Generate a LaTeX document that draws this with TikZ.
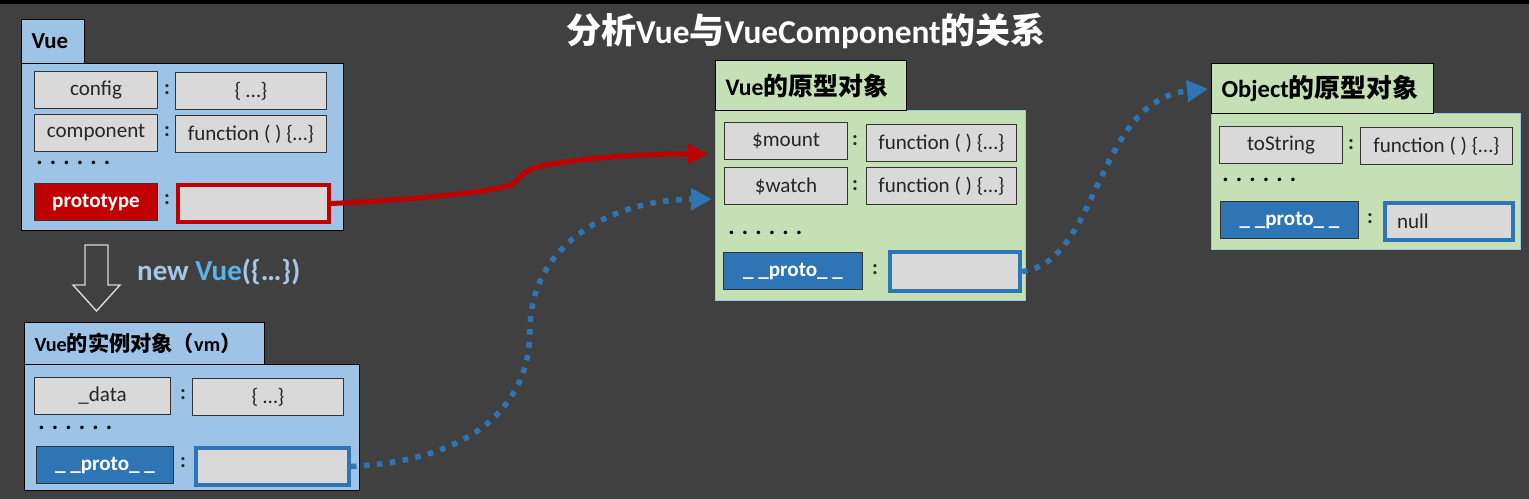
\documentclass[tikz,border=0pt]{standalone}
\usepackage{fontspec}
\setmainfont{Carlito}
\newfontfamily\cjk[Scale=1.05]{Noto Sans CJK SC}
\usetikzlibrary{arrows.meta, positioning}

\definecolor{bgdark}{HTML}{404040}
\definecolor{vblue}{HTML}{9DC3E6}
\definecolor{vgreen}{HTML}{C5E0B4}
\definecolor{keygray}{HTML}{D9D9D9}
\definecolor{vred}{HTML}{C00000}
\definecolor{vbluekey}{HTML}{2E75B6}
\definecolor{paleblue}{HTML}{A9C6E8}
\definecolor{brightblue}{HTML}{5BB3EA}

\begin{document}
\begin{tikzpicture}[x=0.02cm, y=-0.02cm,
  tab/.style={draw=black, line width=0.6pt, anchor=north west, inner xsep=0.2cm,
    inner ysep=0pt, align=left, font=\bfseries\fontsize{13}{15}\selectfont},
  body/.style={draw=black, line width=0.6pt, anchor=north west, inner sep=0pt},
  keybox/.style={draw=black!80, fill=keygray, line width=0.6pt, anchor=north west,
    minimum height=0.74cm, inner sep=0pt, text=black!85,
    font=\fontsize{12}{14}\selectfont},
  valbox/.style={keybox},
  redkey/.style={keybox, fill=vred, text=white, font=\bfseries\fontsize{12}{14}\selectfont},
  redval/.style={keybox, draw=vred, line width=2.3pt},
  bluekey/.style={keybox, fill=vbluekey, text=white, font=\bfseries\fontsize{12}{14}\selectfont},
  blueval/.style={keybox, draw=vbluekey, line width=2.3pt},
  colon/.style={font=\bfseries\fontsize{12}{14}\selectfont, text=black!85, inner sep=0pt},
  dots/.style={anchor=west, inner sep=0pt, font=\bfseries\fontsize{13.5}{15}\selectfont},
  redline/.style={draw=vred, line width=0.1cm, -{Triangle[length=0.4cm, width=0.38cm]}},
  dotline/.style={draw=vbluekey, line width=0.11cm, dash pattern=on 0.11cm off 0.15cm,
    -{Triangle[length=0.42cm, width=0.42cm]}}]

  \useasboundingbox (0,0) rectangle (1529,499);
  \fill[bgdark] (0,0) rectangle (1529,499);
  \fill[black] (0,0) rectangle (1529,4);

  \node (title) [font=\bfseries\fontsize{19}{23}\selectfont, text=white] at (806,31)
    {{\cjk 分析}Vue{\cjk 与}VueComponent{\cjk 的关系}};

  % Vue
  \node (vueBody) [body, fill=vblue, minimum width=6.44cm, minimum height=3.34cm] at (21,63) {};
  \node (vueTab)  [tab, fill=vblue, text width=0.86cm, minimum height=0.88cm] at (21,19) {Vue};
  \node (cfgK)    [keybox, minimum width=2.46cm] at (34,71)  {config};
  \node (cfgV)    [valbox, minimum width=3.02cm] at (175,72) {\{ …\}};
  \node (cmpK)    [keybox, minimum width=2.46cm] at (34,114) {component};
  \node (cmpV)    [valbox, minimum width=3.02cm] at (175,115) {function ( ) \{…\}};
  \node (vueDots) [dots] at (36,163) {. . . . . .};
  \node (protoK)  [redkey, minimum width=2.46cm] at (34,183) {prototype};
  \node (protoV)  [redval, minimum width=3.02cm] at (176,183) {};
  \node (c1) [colon] at (167,90)  {:};
  \node (c2) [colon] at (167,132) {:};
  \node (c3) [colon] at (167,200) {:};

  % new Vue
  \draw[draw=keygray, fill=bgdark, line width=0.8pt]
    (85,245) -- (108,245) -- (108,285) -- (120,285) -- (96.5,311) -- (73,285) -- (85,285) -- cycle;
  \node (newVue) [anchor=west, text=paleblue, font=\bfseries\fontsize{16.5}{18}\selectfont] at (131,272)
    {new \textcolor{brightblue}{Vue}(\{…\})};

  % vm
  \node (vmBody)   [body, fill=vblue, minimum width=6.7cm, minimum height=2.52cm] at (24,364) {};
  \node (vmTab)    [tab, fill=vblue, text width=4.4cm, minimum height=0.84cm,
    font=\bfseries\fontsize{11.5}{14}\selectfont] at (24,322)
    {Vue{\cjk 的实例对象（}vm{\cjk ）}};
  \node (dataK)    [keybox, minimum width=2.72cm] at (34,377)  {\_data};
  \node (dataV)    [valbox, minimum width=3.02cm] at (192,378) {\{ …\}};
  \node (vmDots)   [dots] at (38,428) {. . . . . .};
  \node (vmProtoK) [bluekey, minimum width=2.74cm] at (36,446)  {\_ \_proto\_ \_};
  \node (vmProtoV) [blueval, minimum width=3.06cm] at (194,446) {};
  \node (c4) [colon] at (183,395) {:};
  \node (c5) [colon] at (183,463) {:};

  % Vue prototype
  \node (vpBody)   [body, draw=vblue, fill=vgreen, minimum width=6.2cm, minimum height=3.8cm] at (715,110) {};
  \node (vpTab)    [tab, fill=vgreen, text width=3.42cm, minimum height=1.0cm,
    font=\bfseries\fontsize{13.5}{16}\selectfont] at (715,60)
    {Vue{\cjk 的原型对象}};
  \node (mountK)   [keybox, minimum width=2.46cm] at (724,122) {\$mount};
  \node (mountV)   [valbox, minimum width=3.0cm]  at (866,124) {function ( ) \{…\}};
  \node (watchK)   [keybox, minimum width=2.46cm] at (724,167) {\$watch};
  \node (watchV)   [valbox, minimum width=3.0cm]  at (866,167) {function ( ) \{…\}};
  \node (vpDots)   [dots] at (728,233) {. . . . . .};
  \node (vpProtoK) [bluekey, minimum width=2.78cm] at (723,252) {\_ \_proto\_ \_};
  \node (vpProtoV) [blueval, minimum width=2.6cm, minimum height=0.78cm] at (888,250) {};
  \node (c6) [colon] at (855,141) {:};
  \node (c7) [colon] at (855,186) {:};
  \node (c8) [colon] at (875,270) {:};

  % Object prototype
  \node (opBody)   [body, draw=vblue, fill=vgreen, minimum width=6.18cm, minimum height=2.72cm] at (1211,113) {};
  \node (opTab)    [tab, fill=vgreen, text width=4.04cm, minimum height=1.0cm,
    font=\bfseries\fontsize{14}{16}\selectfont] at (1211,63)
    {Object{\cjk 的原型对象}};
  \node (strK)     [keybox, minimum width=2.46cm] at (1219,126) {toString};
  \node (strV)     [valbox, minimum width=3.04cm] at (1360,127) {function ( ) \{…\}};
  \node (opDots)   [dots] at (1222,180) {. . . . . .};
  \node (opProtoK) [bluekey, minimum width=2.76cm] at (1220,201) {\_ \_proto\_ \_};
  \node (opProtoV) [blueval, minimum width=2.56cm, inner xsep=0.24cm, text width=2.08cm, align=left]
    at (1383,201) {null};
  \node (c9)  [colon] at (1351,145) {:};
  \node (c10) [colon] at (1370,219) {:};

  % links
  \coordinate (redEnd)   at (708,154);
  \coordinate (blueEndA) at (712,199);
  \coordinate (blueEndB) at (1208,89);
  \draw[redline] (protoV.east) .. controls (430,199) and (490,191) .. (508,186)
    .. controls (522,182) and (514,172) .. (545,165)
    .. controls (600,156) and (650,154) .. (redEnd);
  \draw[dotline] (vmProtoV.east) .. controls (480,460) and (530,400) .. (530,330)
    .. controls (530,245) and (610,200) .. (blueEndA);
  \draw[dotline] (vpProtoV.east) .. controls (1100,262) and (1095,100) .. (blueEndB);
\end{tikzpicture}
\end{document}
